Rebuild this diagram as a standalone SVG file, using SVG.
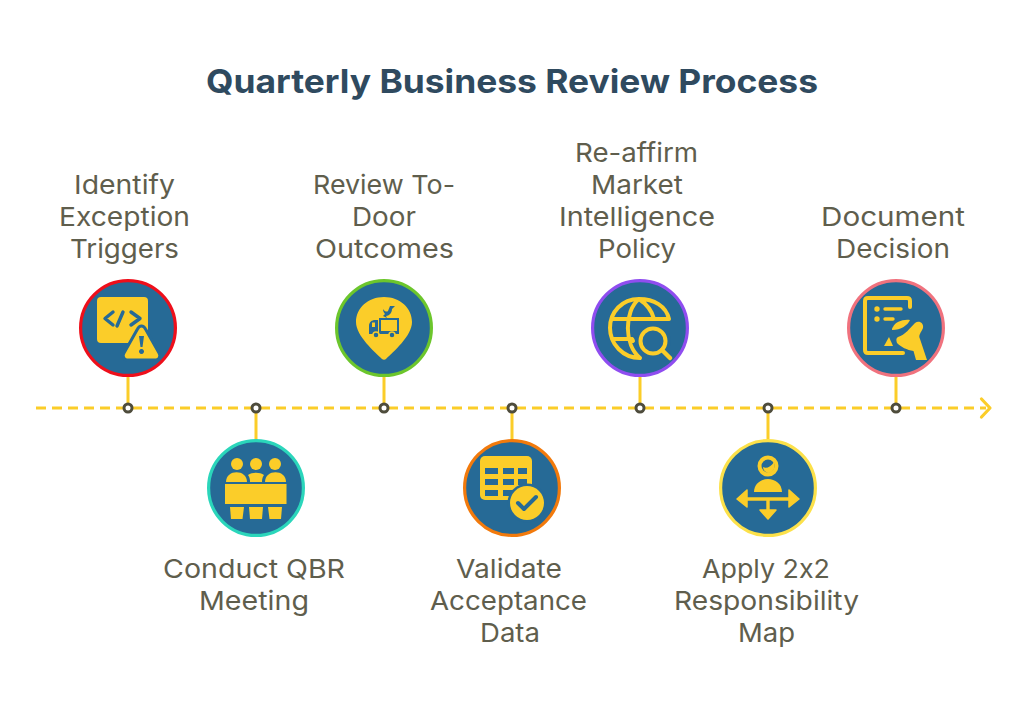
<svg xmlns="http://www.w3.org/2000/svg" width="1024" height="704" viewBox="0 0 1024 704">
<style>
.t{font-family:"Inter","Liberation Sans",sans-serif;font-size:26px;fill:#5f5e4d;text-anchor:middle;font-feature-settings:"calt" 0}
.title{font-family:"Inter","Liberation Sans",sans-serif;font-size:33px;font-weight:700;fill:#2f4a5f;text-anchor:middle}
.disc{fill:#266a96;stroke-width:3.2}
.y{fill:#fbcd29}
.b{fill:#266a96}
.ys{fill:none;stroke:#fbcd29;stroke-width:4;stroke-linecap:round;stroke-linejoin:round}
.bs{fill:none;stroke:#266a96;stroke-width:3.400;stroke-linecap:round;stroke-linejoin:round}
.stem{stroke:#fbcd29;stroke-width:3;fill:none}
.dot{fill:#fff;stroke:#4e4c3c;stroke-width:3}
</style>
<rect width="1024" height="704" fill="#fff"/>
<text class="title" x="512" y="93" textLength="612" lengthAdjust="spacingAndGlyphs">Quarterly Business Review Process</text>
<g id="connectors">
<path d="M36 408H986" fill="none" stroke="#fbcd29" stroke-width="3" stroke-dasharray="10 6"/>
<path d="M981.500 399L990 408L981.500 417" fill="none" stroke="#fbcd29" stroke-width="3.200" stroke-linecap="round" stroke-linejoin="round"/>
<path class="stem" d="M128 376V404M256 412V440M384 376V404M512 412V440M640 376V404M768 412V440M896 376V404"/>
<circle class="dot" cx="128" cy="408" r="4"/><circle class="dot" cx="256" cy="408" r="4"/><circle class="dot" cx="384" cy="408" r="4"/><circle class="dot" cx="512" cy="408" r="4"/><circle class="dot" cx="640" cy="408" r="4"/><circle class="dot" cx="768" cy="408" r="4"/><circle class="dot" cx="896" cy="408" r="4"/>
</g>
<g id="node-1"><circle class="disc" cx="128" cy="328" r="47.400" stroke="#ee0f1b"/>
<g transform="translate(128 328)">
<rect class="y" x="-31" y="-31" width="51" height="46" rx="4"/>
<path class="bs" d="M-15 -16L-23 -9.500L-15 -3M-5 -16L-11 -2M3 -16L12 -9.500L3 -3"/>
<path class="y" d="M13.500 -2C15 -2 16.500 -1 17.500 1L31 25C33 28 31 32 28 32H-1C-4 32 -6 28 -4 25L9.500 1C10.500 -1 12 -2 13.500 -2Z" stroke="#266a96" stroke-width="3"/>
<path class="b" d="M11 8H16L14.500 19H12.500ZM13.500 21a2.500 2.500 0 1 0 .01 0Z"/>
</g></g>
<g id="node-2"><circle class="disc" cx="256" cy="488" r="47.400" stroke="#2bd6bb"/>
<g transform="translate(256 488)" class="y">
<circle cx="-19" cy="-24" r="6"/><circle cx="0" cy="-24" r="6"/><circle cx="19" cy="-24" r="6"/>
<path d="M-30 -6C-30 -19 -9 -19 -9 -6Z"/><path d="M-8 -13C-4 -16 4 -16 8 -13C6 -10 6 -8 6 -6H-6C-6 -8 -6 -10 -8 -13Z"/><path d="M9 -6C9 -19 30 -19 30 -6Z"/>
<rect x="-31" y="-4" width="61.500" height="20"/>
<path d="M-26 19H-12L-13.500 31H-25Z"/><path d="M-7 19H7L6 31H-6Z"/><path d="M12 19H26L25 31H13.500Z"/>
</g></g>
<g id="node-3"><circle class="disc" cx="384" cy="328" r="47.400" stroke="#6cc62c"/>
<g transform="translate(384 328)">
<path class="y" d="M0 -31C16 -31 28 -20 28 -6C28 8 9 24 2 31C1 32 -1 32 -2 31C-9 24 -28 8 -28 -6C-28 -20 -16 -31 0 -31Z"/>
<path class="b" d="M-1 -19C1 -16 3 -16 4 -17L6 -22L11 -22L8 -19C8 -15 5 -12 2 -12L3 -10L-1 -12L1 -14C0 -15 -1 -17 -1 -19Z"/>
<path class="b" d="M-5 -10H15V6H-5ZM-6 -8V6H-15V-2C-15 -6 -12 -8 -9 -8Z"/>
<path class="y" d="M-3 -8H13V3H-3Z"/>
<path class="y" d="M-12 -5.500H-9V-1H-12Z"/>
<circle class="b" cx="-8" cy="7" r="3" stroke="#fbcd29" stroke-width="1.500"/><circle class="b" cx="8" cy="7" r="3" stroke="#fbcd29" stroke-width="1.500"/>
</g></g>
<g id="node-4"><circle class="disc" cx="512" cy="488" r="47.400" stroke="#f27a0c"/>
<g transform="translate(512 488)">
<rect class="y" x="-32" y="-32" width="52" height="44" rx="5"/>
<path class="b" d="M-27 -20H-14V-14H-27ZM-9 -20H2V-14H-9ZM6 -20H15V-14H6ZM-27 -9H-14V-3H-27ZM-9 -9H2V-3H-9ZM6 -9H15V-3H6ZM-27 2H-14V8H-27ZM-9 2H2V8H-9Z"/>
<circle class="b" cx="15" cy="15" r="19.500"/>
<circle class="y" cx="15" cy="15" r="17"/>
<path d="M6 15L12 21L24 9" fill="none" stroke="#266a96" stroke-width="4" stroke-linecap="round" stroke-linejoin="round"/>
</g></g>
<g id="node-5"><circle class="disc" cx="640" cy="328" r="47.400" stroke="#8f4df0"/>
<g transform="translate(640 328)">
<path class="ys" d="M29 -9C26 -22 14 -29 -1 -29C-18 -29 -30 -16 -30 0C-30 16 -17 30 0 30M-28 -9H29M-28 11H-9M-1 -29C-16 -17 -16 17 0 30M-1 -29C8 -23 12 -17 14 -9"/>
<circle class="b" cx="13" cy="13" r="18"/>
<circle class="ys" cx="13" cy="13" r="12.500"/>
<path class="ys" d="M22 22L30 30" style="stroke-width:4.500"/>
<path class="ys" d="M-8 11L-7 13"/>
</g></g>
<g id="node-6"><circle class="disc" cx="768" cy="488" r="47.400" stroke="#fce14a"/>
<g transform="translate(768 488)">
<circle class="ys" cx="0" cy="-22" r="8.500"/>
<path class="y" d="M-5 -21C-2 -19 3 -21 6 -26C8 -20 5 -15 0 -15C-3 -16 -5 -18 -5 -21Z"/>
<path class="y" d="M-14 4C-14 -4 -7 -9 0 -9C7 -9 14 -4 14 4Z"/>
<path class="ys" d="M-25 11H25M0 11V24" style="stroke-linecap:butt;stroke-width:3.400"/>
<path class="y" d="M-21 2L-31 11L-21 19ZM21 2L31 11L21 19ZM-8 22H8L0 31Z" stroke="#fbcd29" stroke-width="1.500" stroke-linejoin="round"/>
</g></g>
<g id="node-7"><circle class="disc" cx="896" cy="328" r="47.400" stroke="#f0727e"/>
<g transform="translate(896 328)">
<path class="ys" d="M14 -21V-27C14 -29 13 -30 11 -30H-28C-30 -30 -31 -29 -31 -27V22C-31 24 -30 25 -28 25H7"/>
<circle class="y" cx="-19" cy="-19" r="2.700"/><circle class="y" cx="-19" cy="-9" r="2.700"/>
<path class="ys" d="M-11 -19H5M-11 -9H-3" style="stroke-width:3.400"/>
<path class="y" d="M-3 -1C-1 -6 7 -9 14 -8C12 -3 5 2 -4 2C-4 1 -4 0 -3 -1Z"/>
<path class="y" d="M-7 9L-3 18H-12Z"/>
<path class="y" d="M2 9C9 7 14 0 19 -5C23 -8 28 -5 27 0C25 5 22 7 24 11L31 32H20L17.500 23C11 22 5 19 1 15C0 12 0 10 2 9Z"/>
</g></g>
<g id="labels">
<text class="t" x="124.500" y="194" textLength="101" lengthAdjust="spacingAndGlyphs">Identify</text>
<text class="t" x="124.500" y="226" textLength="131" lengthAdjust="spacingAndGlyphs">Exception</text>
<text class="t" x="124.500" y="258" textLength="109" lengthAdjust="spacingAndGlyphs">Triggers</text>
<text class="t" x="254" y="578" textLength="182" lengthAdjust="spacingAndGlyphs">Conduct QBR</text>
<text class="t" x="254" y="610" textLength="110" lengthAdjust="spacingAndGlyphs">Meeting</text>
<text class="t" x="384" y="194" textLength="142" lengthAdjust="spacingAndGlyphs">Review To-</text>
<text class="t" x="384" y="226" textLength="64" lengthAdjust="spacingAndGlyphs">Door</text>
<text class="t" x="384.500" y="258" textLength="139" lengthAdjust="spacingAndGlyphs">Outcomes</text>
<text class="t" x="509" y="578" textLength="106" lengthAdjust="spacingAndGlyphs">Validate</text>
<text class="t" x="508.500" y="610" textLength="157" lengthAdjust="spacingAndGlyphs">Acceptance</text>
<text class="t" x="510" y="642" textLength="60" lengthAdjust="spacingAndGlyphs">Data</text>
<text class="t" x="636.500" y="162" textLength="123" lengthAdjust="spacingAndGlyphs">Re-affirm</text>
<text class="t" x="637" y="194" textLength="92" lengthAdjust="spacingAndGlyphs">Market</text>
<text class="t" x="637" y="226" textLength="156" lengthAdjust="spacingAndGlyphs">Intelligence</text>
<text class="t" x="637" y="258" textLength="78" lengthAdjust="spacingAndGlyphs">Policy</text>
<text class="t" x="766" y="578" textLength="128" lengthAdjust="spacingAndGlyphs">Apply 2x2</text>
<text class="t" x="766.500" y="610" textLength="185" lengthAdjust="spacingAndGlyphs">Responsibility</text>
<text class="t" x="766.500" y="642" textLength="57" lengthAdjust="spacingAndGlyphs">Map</text>
<text class="t" x="893" y="226" textLength="144" lengthAdjust="spacingAndGlyphs">Document</text>
<text class="t" x="893" y="258" textLength="114" lengthAdjust="spacingAndGlyphs">Decision</text>
</g>
</svg>
